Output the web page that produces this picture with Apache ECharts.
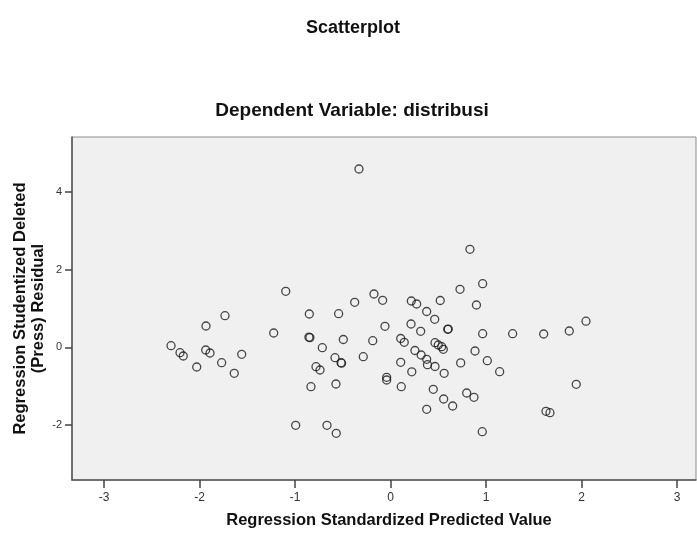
<!DOCTYPE html>
<html>
<head>
<meta charset="utf-8">
<title>Scatterplot</title>
<script src="https://cdn.jsdelivr.net/npm/echarts@6/dist/echarts.min.js"></script>
<style>
  html, body { margin: 0; padding: 0; background: #fff; }
  #main { width: 697px; height: 535px; }
</style>
</head>
<body>
<div id="main"></div>
<script>
// predicted (x) and deleted residual (y)
const predicted = [
  -2.300, -2.206, -2.172, -2.031, -1.934, -1.937, -1.892, -1.770, -1.735, -1.638,
  -1.560, -1.225, -1.099, -0.995, -0.852, -0.856, -0.846, -0.835, -0.782, -0.740,
  -0.716, -0.667, -0.570, -0.583, -0.520, -0.514, -0.573, -0.545, -0.496, -0.377,
  -0.332, -0.287, -0.188, -0.175, -0.084, -0.060, -0.042, -0.042, 0.105, 0.142,
  0.105, 0.111, 0.216, 0.272, 0.213, 0.254, 0.221, 0.314, 0.319, 0.377,
  0.377, 0.385, 0.377, 0.461, 0.464, 0.498, 0.534, 0.551, 0.464, 0.446,
  0.519, 0.597, 0.603, 0.560, 0.555, 0.649, 0.726, 0.733, 0.830, 0.796,
  0.872, 0.898, 0.883, 0.963, 0.963, 1.012, 0.959, 1.141, 1.277, 1.602,
  1.626, 1.668, 1.870, 1.943, 2.045
];
const residual = [
  0.041, -0.139, -0.224, -0.508, 0.549, -0.070, -0.147, -0.397, 0.814, -0.670,
  -0.180, 0.369, 1.443, -2.010, 0.858, 0.262, 0.250, -1.015, -0.500, -0.585,
  -0.010, -2.010, -2.216, -0.268, -0.397, -0.410, -0.946, 0.866, 0.201, 1.160,
  4.595, -0.242, 0.170, 1.374, 1.211, 0.541, -0.773, -0.843, 0.227, 0.129,
  -0.387, -1.015, 1.193, 1.116, 0.601, -0.082, -0.631, 0.412, -0.198, 0.923,
  -0.309, -0.448, -1.598, 0.722, 0.119, 0.059, 0.015, -0.052, -0.495, -1.082,
  1.206, 0.464, 0.470, -0.670, -1.332, -1.513, 1.495, -0.402, 2.526, -1.178,
  -1.289, 1.090, -0.095, 1.639, 0.351, -0.345, -2.175, -0.629, 0.351, 0.343,
  -1.649, -1.686, 0.420, -0.954, 0.673
];
const xTicks = [-3, -2, -1, 0, 1, 2, 3];
const yTicks = [-2, 0, 2, 4];

const points = predicted.map((x, i) => [x, residual[i]]);

const font = 'Liberation Sans, Arial, sans-serif';
const chart = echarts.init(document.getElementById('main'));

chart.setOption({
  animation: false,
  title: [
    {
      text: 'Scatterplot',
      left: 348, top: 14, textAlign: 'center',
      textStyle: { fontFamily: font, fontSize: 18, fontWeight: 'bold', color: '#111' }
    },
    {
      text: 'Dependent Variable: distribusi',
      left: 347, top: 96, textAlign: 'center',
      textStyle: { fontFamily: font, fontSize: 19, fontWeight: 'bold', color: '#111' }
    }
  ],
  grid: {
    left: 72, top: 137, right: 1, bottom: 55,
    outerBoundsMode: 'none',
    containLabel: false,
    show: true,
    backgroundColor: '#f0f0f0',
    borderColor: '#8c8c8c',
    borderWidth: 1
  },
  xAxis: {
    type: 'value',
    min: -3.337, max: 3.197,
    name: 'Regression Standardized Predicted Value',
    nameLocation: 'middle',
    nameGap: 32,
    nameTextStyle: { fontFamily: font, fontSize: 16.5, fontWeight: 'bold', color: '#111', padding: [0, 0, 0, 10] },
    splitLine: { show: false },
    axisLine: { onZero: false, lineStyle: { color: '#555', width: 1.5 } },
    axisTick: { customValues: xTicks, length: 8, lineStyle: { color: '#444', width: 1.5 } },
    axisLabel: { customValues: xTicks, fontFamily: font, fontSize: 12, color: '#333', margin: 12 }
  },
  yAxis: {
    type: 'value',
    min: -3.42, max: 5.42,
    name: 'Regression Studentized Deleted\n(Press) Residual',
    nameLocation: 'middle',
    nameGap: 25,
    nameMoveOverlap: false,
    nameTextStyle: { fontFamily: font, fontSize: 16.5, fontWeight: 'bold', color: '#111', lineHeight: 18 },
    splitLine: { show: false },
    axisLine: { onZero: false, lineStyle: { color: '#555', width: 1.5 } },
    axisTick: { customValues: yTicks, length: 7, lineStyle: { color: '#444', width: 1.5 } },
    axisLabel: { customValues: yTicks, fontFamily: font, fontSize: 11, color: '#333', margin: 10 }
  },
  series: [{
    type: 'scatter',
    data: points,
    symbol: 'circle',
    symbolSize: 8,
    itemStyle: { color: 'rgba(0,0,0,0)', borderColor: '#1a1a1a', borderWidth: 1.3 }
  }]
});
</script>
</body>
</html>
